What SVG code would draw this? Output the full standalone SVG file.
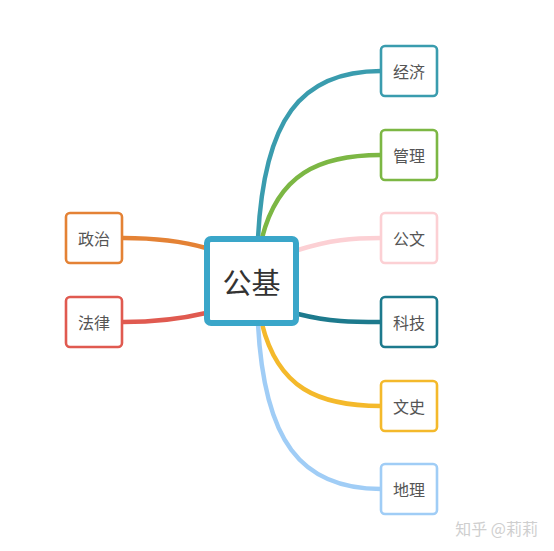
<svg xmlns="http://www.w3.org/2000/svg" width="554" height="551" viewBox="0 0 554 551">
<style>
.n{fill:#fff;stroke-width:2.6}
.t{font-family:"Noto Sans CJK SC","Noto Sans",sans-serif;font-size:16px;fill:#555;text-anchor:middle;dominant-baseline:central}
.c{fill:none;stroke-width:4.5;stroke-linecap:round}
</style>
<rect width="554" height="551" fill="#fff"/>
<g id="connectors">
<path class="c" stroke="#3a9cae" d="M258 238 C264 120 300 71 381 71"/>
<path class="c" stroke="#7cb744" d="M262 238 C278 175 318 155 381 155"/>
<path class="c" stroke="#fcd0d4" d="M298 250 C330 240 352 238 381 238"/>
<path class="c" stroke="#1d7a8d" d="M298 314 C330 322 352 322 381 322"/>
<path class="c" stroke="#f4b92b" d="M262 324 C278 388 318 406 381 406"/>
<path class="c" stroke="#a0cdf6" d="M258 324 C264 440 300 489 381 489"/>
<path class="c" stroke="#e48235" d="M123 238 C160 238 185 242 206 248"/>
<path class="c" stroke="#e05a50" d="M123 322 C160 322 185 318 206 313"/>
</g>
<g id="center">
<rect x="207" y="239" width="89" height="84" rx="4" fill="#fff" stroke="#3aa6c9" stroke-width="6"/>
<text x="251.5" y="281" class="t" style="font-size:29px;fill:#333">公基</text>
</g>
<g id="jingji"><rect class="n" x="381" y="46" width="56" height="50" rx="4" stroke="#3a9cae"/><text class="t" x="409" y="71">经济</text></g>
<g id="guanli"><rect class="n" x="381" y="130" width="56" height="50" rx="4" stroke="#7cb744"/><text class="t" x="409" y="155">管理</text></g>
<g id="gongwen"><rect class="n" x="381" y="213" width="56" height="50" rx="4" stroke="#fcd0d4"/><text class="t" x="409" y="238">公文</text></g>
<g id="keji"><rect class="n" x="381" y="297" width="56" height="50" rx="4" stroke="#1d7a8d"/><text class="t" x="409" y="322">科技</text></g>
<g id="wenshi"><rect class="n" x="381" y="381" width="56" height="50" rx="4" stroke="#f4b92b"/><text class="t" x="409" y="406">文史</text></g>
<g id="dili"><rect class="n" x="381" y="464" width="56" height="50" rx="4" stroke="#a0cdf6"/><text class="t" x="409" y="489">地理</text></g>
<g id="zhengzhi"><rect class="n" x="66" y="213" width="56" height="50" rx="4" stroke="#e48235"/><text class="t" x="94" y="238">政治</text></g>
<g id="falv"><rect class="n" x="66" y="297" width="56" height="50" rx="4" stroke="#e05a50"/><text class="t" x="94" y="322">法律</text></g>
<text x="538" y="528" style="font-family:'Noto Sans CJK SC',sans-serif;font-size:16px;fill:#cfcfcf;text-anchor:end;dominant-baseline:central">知乎 @莉莉</text>
</svg>
